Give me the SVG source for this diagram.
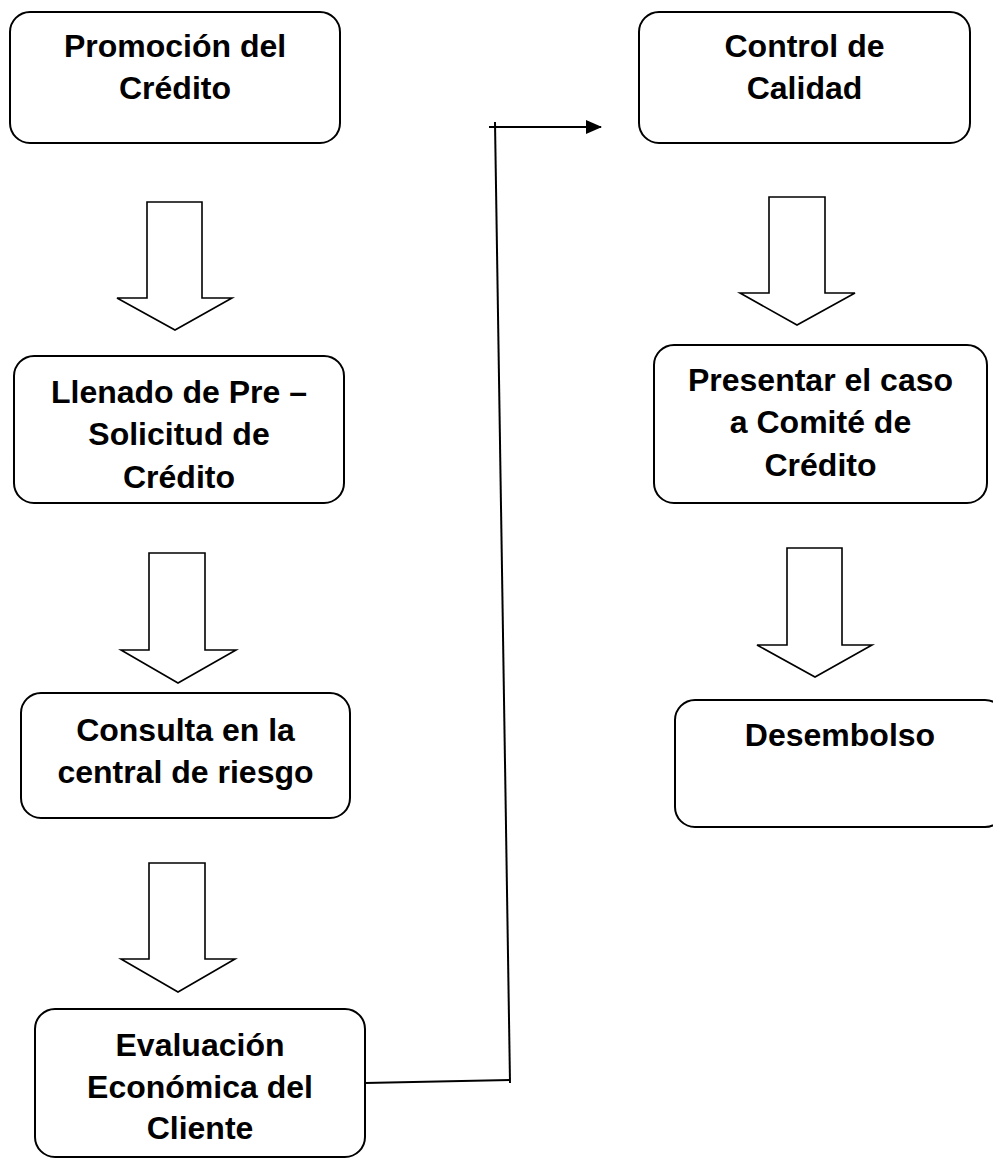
<svg xmlns="http://www.w3.org/2000/svg" width="993" height="1166" viewBox="0 0 993 1166">
<defs>
<style>
.box{fill:#fff;stroke:#000;stroke-width:2}
.blk{fill:#fff;stroke:#000;stroke-width:1.6;stroke-linejoin:miter}
.t{font-family:"Liberation Sans",Arial,sans-serif;font-weight:bold;font-size:32px;text-anchor:middle;fill:#000}
.ln{fill:none;stroke:#000;stroke-width:2}
</style>
<marker id="ah" markerWidth="16" markerHeight="14" refX="15" refY="7" orient="auto" markerUnits="userSpaceOnUse"><path d="M0,0 L16,7 L0,14 z" fill="#000"/></marker>
</defs>
<rect width="993" height="1166" fill="#fff"/>
<g id="n1"><rect class="box" x="10" y="12" width="330" height="131" rx="20"/><text class="t" x="175" y="57">Promoción del</text><text class="t" x="175" y="99">Crédito</text></g>
<g id="a1"><path class="blk" d="M147,202 H202 V298 H232 L175,330 L117,298 H147 Z"/></g>
<g id="n2"><rect class="box" x="14" y="356" width="330" height="147" rx="20"/><text class="t" x="179" y="403">Llenado de Pre –</text><text class="t" x="179" y="445">Solicitud de</text><text class="t" x="179" y="488">Crédito</text></g>
<g id="a2"><path class="blk" d="M149,553 H205 V650 H236 L178,683 L121,650 H149 Z"/></g>
<g id="n3"><rect class="box" x="21" y="693" width="329" height="125" rx="20"/><text class="t" x="185.5" y="741">Consulta en la</text><text class="t" x="185.5" y="783">central de riesgo</text></g>
<g id="a3"><path class="blk" d="M149,863 H205 V959 H235 L178,992 L121,959 H149 Z"/></g>
<g id="n4"><rect class="box" x="35" y="1009" width="330" height="148" rx="20"/><text class="t" x="200" y="1056">Evaluación</text><text class="t" x="200" y="1098">Económica del</text><text class="t" x="200" y="1139">Cliente</text></g>
<g id="n5"><rect class="box" x="639" y="12" width="331" height="131" rx="20"/><text class="t" x="804.5" y="57">Control de</text><text class="t" x="804.5" y="99">Calidad</text></g>
<g id="a4"><path class="blk" d="M769,197 H825 V293 H855 L797,325 L740,293 H769 Z"/></g>
<g id="n6"><rect class="box" x="654" y="345" width="333" height="158" rx="20"/><text class="t" x="820.5" y="391">Presentar el caso</text><text class="t" x="820.5" y="433">a Comité de</text><text class="t" x="820.5" y="476">Crédito</text></g>
<g id="a5"><path class="blk" d="M787,548 H842 V645 H872 L815,677 L757,645 H787 Z"/></g>
<g id="n7"><rect class="box" x="675" y="700" width="330" height="127" rx="20"/><text class="t" x="840" y="746">Desembolso</text></g>
<g id="connectors">
<path class="ln" d="M365,1083 L510,1080"/>
<path class="ln" d="M510,1083 L495,122"/>
<path class="ln" d="M489,127 L601,127" marker-end="url(#ah)"/>
</g>
</svg>
